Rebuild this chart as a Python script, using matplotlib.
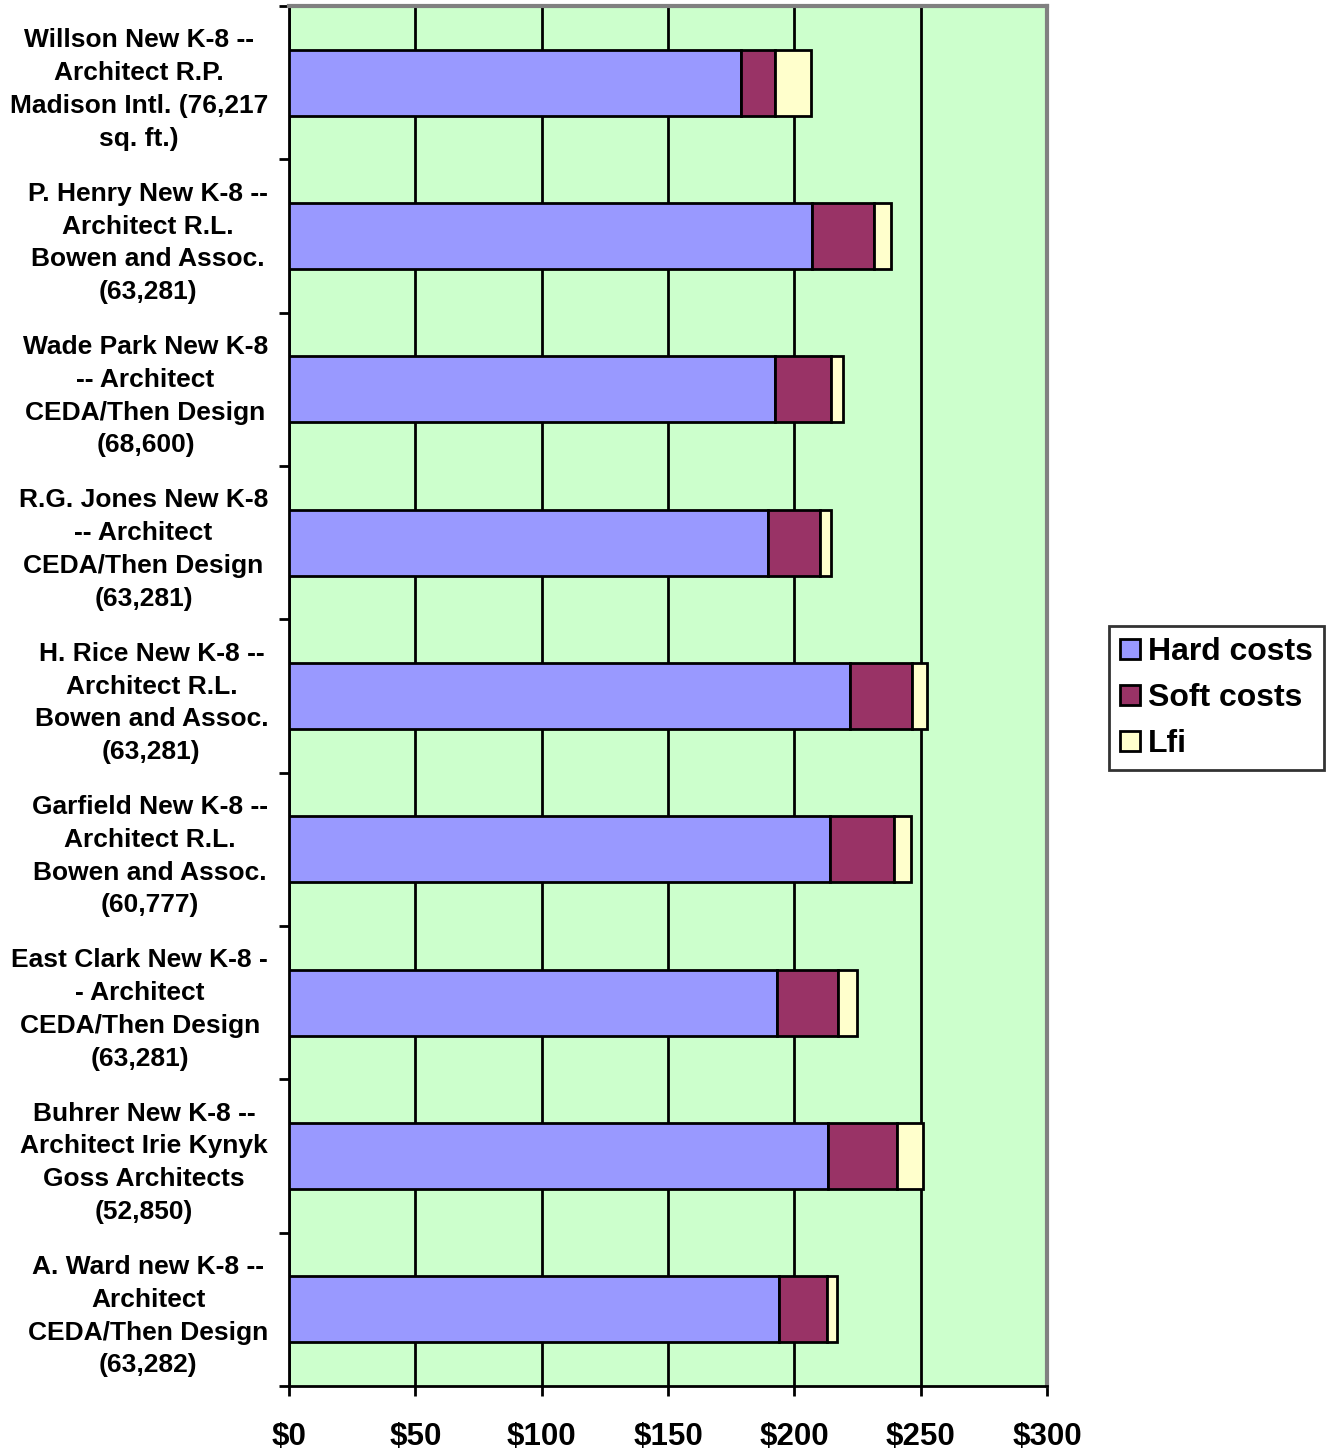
import matplotlib
matplotlib.use("Agg")
import matplotlib.pyplot as plt
import numpy as np

plt.rcParams['font.family'] = ['Liberation Sans', 'DejaVu Sans']
plt.rcParams['font.weight'] = 'bold'

# schools, top to bottom
schools = [
    "Willson New K-8 --\nArchitect R.P.\nMadison Intl. (76,217\nsq. ft.)",
    "P. Henry New K-8 --\nArchitect R.L.\nBowen and Assoc.\n(63,281)",
    "Wade Park New K-8\n-- Architect\nCEDA/Then Design\n(68,600)",
    "R.G. Jones New K-8\n-- Architect\nCEDA/Then Design\n(63,281)",
    "H. Rice New K-8 --\nArchitect R.L.\nBowen and Assoc.\n(63,281)",
    "Garfield New K-8 --\nArchitect R.L.\nBowen and Assoc.\n(60,777)",
    "East Clark New K-8 -\n- Architect\nCEDA/Then Design\n(63,281)",
    "Buhrer New K-8 --\nArchitect Irie Kynyk\nGoss Architects\n(52,850)",
    "A. Ward new K-8 --\nArchitect\nCEDA/Then Design\n(63,282)",
]
hard_costs = [178.8, 206.8, 192.5, 189.7, 222.1, 214.0, 193.3, 213.3, 193.9]
soft_costs = [13.7, 24.6, 22.1, 20.6, 24.4, 25.6, 24.1, 27.3, 19.2]
lfi_costs = [14.1, 6.8, 4.8, 4.3, 6.1, 6.6, 7.5, 10.3, 3.8]
x_ticks = [0, 50, 100, 150, 200, 250, 300]
x_labels = ["$0", "$50", "$100", "$150", "$200", "$250", "$300"]

W, H = 1327, 1453
fig = plt.figure(figsize=(W / 100, H / 100), dpi=100)
ax = fig.add_axes([289 / W, 1 - 1386 / H, (1047 - 289) / W, (1386 - 6) / H])
ax.set_facecolor('#CCFFCC')

y = np.arange(len(schools))
hard = np.array(hard_costs)
soft = np.array(soft_costs)
lfi = np.array(lfi_costs)
bh = 0.43
kw = dict(height=bh, edgecolor='black', linewidth=2, zorder=3)
ax.barh(y, hard, color='#9999FF', label='Hard costs', **kw)
ax.barh(y, soft, left=hard, color='#993366', label='Soft costs', **kw)
ax.barh(y, lfi, left=hard + soft, color='#FFFFCC', label='Lfi', **kw)

ax.set_xlim(0, 300)
ax.set_ylim(len(schools) - 0.5, -0.5)

ax.set_xticks(x_ticks)
ax.set_xticklabels(x_labels, fontsize=22.5, fontweight='bold')
ax.tick_params(axis='x', length=7, width=2, pad=19)
ax.xaxis.grid(True, color='black', linewidth=2, zorder=1)
ax.set_axisbelow(True)

ax.set_yticks(np.arange(len(schools) + 1) - 0.5)
ax.set_yticklabels([])
ax.tick_params(axis='y', which='major', length=7, width=2)
ax.set_yticks(y, minor=True)
ax.set_yticklabels(schools, minor=True, fontsize=19, fontweight='bold',
                   multialignment='center', linespacing=1.46)
ax.tick_params(axis='y', which='minor', length=0, pad=15)

for s in ['left', 'bottom']:
    ax.spines[s].set_color('black')
    ax.spines[s].set_linewidth(2)
for s in ['top', 'right']:
    ax.spines[s].set_color('#808080')
    ax.spines[s].set_linewidth(3)

leg = ax.legend(loc='upper left', bbox_to_anchor=(1109 / W, 1 - 626 / H),
                bbox_transform=fig.transFigure, borderaxespad=0,
                frameon=True, fancybox=False, edgecolor='black',
                handlelength=0.62, handleheight=0.62, handletextpad=0.25,
                labelspacing=0.5, borderpad=0.35, prop={'weight': 'bold', 'size': 23})
leg.get_frame().set_linewidth(2)

fig.savefig('out.png', dpi=100)
